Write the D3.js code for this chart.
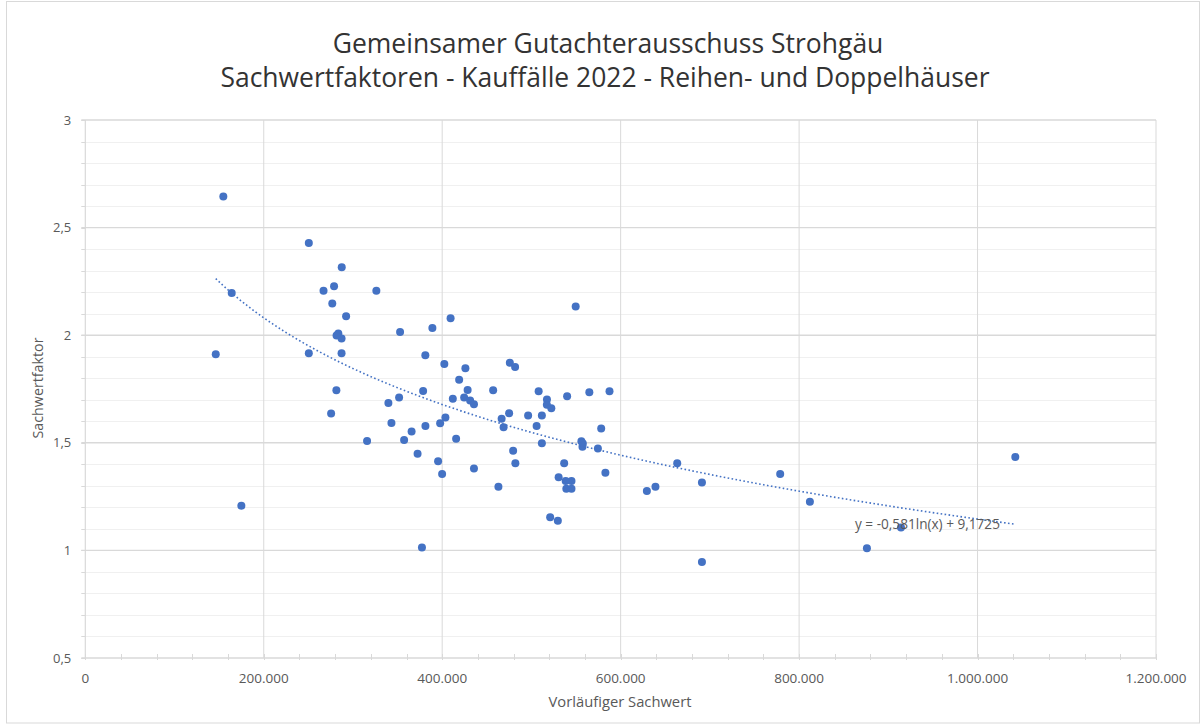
<!DOCTYPE html>
<html>
<head>
<meta charset="utf-8">
<script src="https://cdn.jsdelivr.net/npm/d3@7"></script>
<style>
  html, body { margin: 0; padding: 0; background: #fff; }
  svg { display: block; font-family: "Open Sans", "Noto Sans", sans-serif; }
</style>
</head>
<body>
<svg id="chart" width="1203" height="724"></svg>
<script>
// ---- Data ----
const titleLines = ["Gemeinsamer Gutachterausschuss Strohgäu",
                    "Sachwertfaktoren - Kauffälle 2022 - Reihen- und Doppelhäuser"];
const xAxisTitle = "Vorläufiger Sachwert";
const yAxisTitle = "Sachwertfaktor";
const xTicks = [0, 200000, 400000, 600000, 800000, 1000000, 1200000];
const yTicks = [0.5, 1, 1.5, 2, 2.5, 3];
const trendA = -0.581;      // coefficient shown in the chart
const trendB = 9.1725;      // intercept shown in the chart
const trendLabel = "y = -0,581ln(x) + 9,1725";

// Vorläufiger Sachwert (EUR)
const sachwert = [
  154700, 164100, 146200, 174900, 250500, 287400, 278800, 267000, 326200, 276800,
  292300, 283600, 287200, 281600, 250500, 287200, 281400, 275500, 339700, 351700,
  343100, 365700, 357300, 315800, 372400, 352800, 389000, 409400, 381100, 402400,
  426000, 419000, 475800, 481700, 378600, 411900, 428500, 424600, 431300, 435600,
  457100, 381200, 397700, 403600, 466600, 468800, 475000, 415600, 395400, 399900,
  435600, 479500, 482000, 463000, 377300, 549600, 508100, 517400, 517300, 522300,
  540000, 564900, 587500, 496300, 511700, 505800, 578200, 511700, 556000, 557600,
  557200, 574500, 536700, 582900, 530500, 538400, 544900, 539100, 544900, 521000,
  529600, 629400, 639000, 663400, 691100, 691100, 778800, 812100, 876000, 914200,
  1042300
];
// Sachwertfaktor
const faktor = [
  2.644, 2.196, 1.911, 1.208, 2.428, 2.316, 2.227, 2.207, 2.207, 2.147,
  2.088, 2.008, 1.985, 1.999, 1.916, 1.916, 1.744, 1.636, 1.685, 1.710,
  1.592, 1.553, 1.513, 1.508, 1.449, 2.015, 2.033, 2.079, 1.907, 1.866,
  1.847, 1.793, 1.872, 1.852, 1.741, 1.705, 1.745, 1.710, 1.696, 1.679,
  1.744, 1.578, 1.591, 1.617, 1.612, 1.572, 1.637, 1.519, 1.414, 1.355,
  1.380, 1.463, 1.405, 1.296, 1.013, 2.133, 1.740, 1.701, 1.677, 1.661,
  1.716, 1.735, 1.740, 1.627, 1.627, 1.578, 1.567, 1.498, 1.507, 1.497,
  1.482, 1.473, 1.405, 1.361, 1.340, 1.323, 1.323, 1.286, 1.286, 1.154,
  1.138, 1.276, 1.296, 1.405, 1.316, 0.946, 1.355, 1.226, 1.010, 1.106,
  1.434
];

// ---- Layout ----
const W = 1203, H = 724;
const plot = { left: 85.3, right: 1156, top: 120, bottom: 658 };
const blue = "#4472C4";
const gridMajor = "#d9d9d9";
const gridMinor = "#f0f0f0";
const textGray = "#595959";

const de = d3.formatLocale({ decimal: ",", thousands: ".", grouping: [3], currency: ["", " €"] });
const fmtX = de.format(",.0f");
const fmtY = de.format("~g");

const svg = d3.select("#chart");
const x = d3.scaleLinear().domain([0, 1200000]).range([plot.left, plot.right]);
const y = d3.scaleLinear().domain([0.5, 3]).range([plot.bottom, plot.top]);

// outer chart border
svg.append("rect").attr("x", 6.5).attr("y", 1.5).attr("width", W - 10).attr("height", H - 2.5)
  .attr("fill", "#fff").attr("stroke", "#d9d9d9").attr("stroke-width", 1);

function fitText(sel, target) {
  const n = sel.node();
  const len = n.getComputedTextLength();
  const fs = parseFloat(sel.attr("font-size"));
  sel.attr("font-size", (fs * target / len).toFixed(2));
}

// minor horizontal gridlines (0.1)
const minorY = d3.range(0.6, 3.0, 0.1).map(v => +v.toFixed(1)).filter(v => Math.abs(v * 2 - Math.round(v * 2)) > 1e-6);
svg.append("g").selectAll("line").data(minorY).join("line")
  .attr("x1", plot.left).attr("x2", plot.right)
  .attr("y1", d => Math.round(y(d)) + 0.5).attr("y2", d => Math.round(y(d)) + 0.5)
  .attr("stroke", gridMinor).attr("stroke-width", 1);

// major horizontal gridlines
svg.append("g").selectAll("line").data(yTicks.filter(d => d !== 0.5)).join("line")
  .attr("x1", plot.left - 4).attr("x2", plot.right)
  .attr("y1", d => y(d)).attr("y2", d => y(d))
  .attr("stroke", gridMajor).attr("stroke-width", 1.4);

// vertical gridlines
svg.append("g").selectAll("line").data(xTicks.filter(d => d !== 0)).join("line")
  .attr("x1", d => x(d)).attr("x2", d => x(d))
  .attr("y1", plot.top).attr("y2", plot.bottom)
  .attr("stroke", gridMajor).attr("stroke-width", 1);

// y axis line + minor ticks
svg.append("line").attr("x1", plot.left).attr("x2", plot.left)
  .attr("y1", plot.top).attr("y2", plot.bottom).attr("stroke", gridMajor).attr("stroke-width", 1.2);
const yTickVals = d3.range(5, 31).map(v => v / 10);
svg.append("g").selectAll("line").data(yTickVals).join("line")
  .attr("x1", plot.left - 4).attr("x2", plot.left)
  .attr("y1", d => Math.round(y(d)) + 0.5).attr("y2", d => Math.round(y(d)) + 0.5)
  .attr("stroke", gridMajor).attr("stroke-width", 1);

// x axis line + ticks
svg.append("line").attr("x1", plot.left - 4).attr("x2", plot.right)
  .attr("y1", plot.bottom).attr("y2", plot.bottom).attr("stroke", gridMajor).attr("stroke-width", 1.4);
const xTickVals = d3.range(0, 1200001, 40000);
svg.append("g").selectAll("line").data(xTickVals).join("line")
  .attr("x1", d => Math.round(x(d)) + 0.5).attr("x2", d => Math.round(x(d)) + 0.5)
  .attr("y1", plot.bottom - 4).attr("y2", plot.bottom + 2)
  .attr("stroke", gridMajor).attr("stroke-width", 1);

// tick labels
svg.append("g").selectAll("text").data(yTicks).join("text")
  .attr("x", plot.left - 14).attr("y", d => y(d)).attr("dy", "0.35em")
  .attr("text-anchor", "end").attr("font-size", 13).attr("fill", textGray)
  .text(d => fmtY(d));
svg.append("g").selectAll("text").data(xTicks).join("text")
  .attr("x", d => x(d)).attr("y", plot.bottom + 20).attr("dy", "0.35em")
  .attr("text-anchor", "middle").attr("font-size", 13.5).attr("fill", textGray)
  .text(d => fmtX(d));

// axis titles
const xt = svg.append("text").attr("x", 620).attr("y", 702).attr("dy", "0.35em")
  .attr("text-anchor", "middle").attr("font-size", 13.5).attr("fill", textGray).text(xAxisTitle);
fitText(xt, 143);
const yt = svg.append("text").attr("transform", "translate(38,388) rotate(-90)").attr("dy", "0.35em")
  .attr("text-anchor", "middle").attr("font-size", 13.5).attr("fill", textGray).text(yAxisTitle);
fitText(yt, 101);

// title
const t1 = svg.append("text").attr("x", 608).attr("y", 53).attr("text-anchor", "middle")
  .attr("font-size", 23).attr("fill", "#333").text(titleLines[0]);
fitText(t1, 551);
const t2 = svg.append("text").attr("x", 605).attr("y", 87).attr("text-anchor", "middle")
  .attr("font-size", 23).attr("fill", "#333").text(titleLines[1]);
fitText(t2, 769);

// points
const pts = sachwert.map((v, i) => ({ x: v, y: faktor[i] }));
svg.append("g").selectAll("circle").data(pts).join("circle")
  .attr("cx", d => x(d.x)).attr("cy", d => y(d.y)).attr("r", 4)
  .attr("fill", blue);

// logarithmic trend line (from the equation shown in the chart)
const xmin = d3.min(sachwert), xmax = d3.max(sachwert);
const trendX = d3.range(0, 201).map(i => xmin + (xmax - xmin) * i / 200);
svg.append("path")
  .datum(trendX)
  .attr("d", d3.line().x(d => x(d)).y(d => y(trendA * Math.log(d) + trendB)))
  .attr("fill", "none").attr("stroke", blue).attr("stroke-width", 1.6)
  .attr("stroke-dasharray", "1.6,2.4");

// equation label
const eq = svg.append("text").attr("x", 855).attr("y", 524).attr("dy", "0.35em")
  .attr("font-size", 12.5).attr("fill", textGray).text(trendLabel);
fitText(eq, 145);
</script>
</body>
</html>
